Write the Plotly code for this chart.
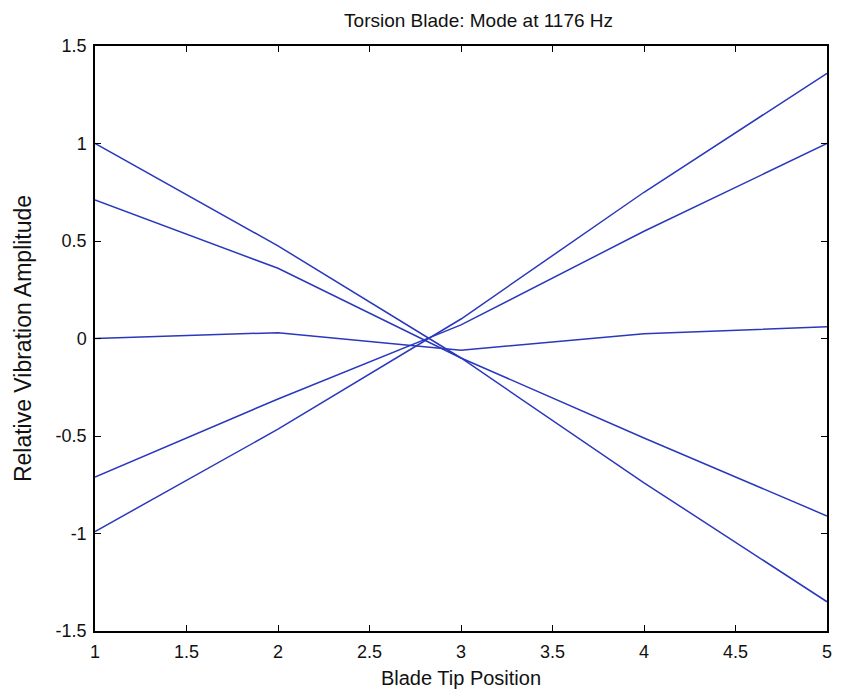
import plotly.graph_objects as go

positions = [1, 2, 3, 4, 5]
series_a = [1.00, 0.475, -0.10, -0.74, -1.35]
series_b = [0.71, 0.36, -0.10, -0.51, -0.91]
series_c = [0.00, 0.03, -0.06, 0.025, 0.06]
series_d = [-0.71, -0.31, 0.07, 0.55, 1.00]
series_e = [-0.99, -0.465, 0.10, 0.75, 1.36]

x_ticks = [1, 1.5, 2, 2.5, 3, 3.5, 4, 4.5, 5]
x_tick_text = ["1", "1.5", "2", "2.5", "3", "3.5", "4", "4.5", "5"]
y_ticks = [-1.5, -1, -0.5, 0, 0.5, 1, 1.5]
y_tick_text = ["-1.5", "-1", "-0.5", "0", "0.5", "1", "1.5"]

line_color = "#2a38bc"
font_family = "Liberation Sans, Arial, sans-serif"

fig = go.Figure()
for ys in [series_a, series_b, series_c, series_d, series_e]:
    fig.add_trace(go.Scatter(x=positions, y=ys, mode="lines",
                             line=dict(color=line_color, width=1.5),
                             showlegend=False, hoverinfo="skip"))

axis_common = dict(showline=True, linecolor="black", linewidth=1.5, mirror="allticks",
                   ticks="inside", ticklen=6, tickwidth=1.2, tickcolor="black",
                   showgrid=False, zeroline=False,
                   tickfont=dict(family=font_family, size=18, color="#111111"))

fig.update_xaxes(range=[1, 5], tickvals=x_ticks, ticktext=x_tick_text,
                 ticklabelstandoff=4,
                 title=dict(text="Blade Tip Position", standoff=10,
                            font=dict(family=font_family, size=20, color="#111111")),
                 **axis_common)
fig.update_yaxes(range=[-1.5, 1.5], tickvals=y_ticks, ticktext=y_tick_text,
                 ticklabelstandoff=3,
                 title=dict(text="Relative Vibration Amplitude", standoff=18,
                            font=dict(family=font_family, size=23, color="#111111")),
                 **axis_common)

fig.update_layout(
    width=834, height=688,
    margin=dict(l=87, r=10, t=38, b=65),
    paper_bgcolor="white", plot_bgcolor="white",
    title=dict(text="Torsion Blade: Mode at 1176 Hz", x=0.524, xanchor="center",
               xref="paper", y=1 - 12 / 688, yanchor="middle",
               font=dict(family=font_family, size=19, color="#111111")),
)

fig.write_html("out.html")
